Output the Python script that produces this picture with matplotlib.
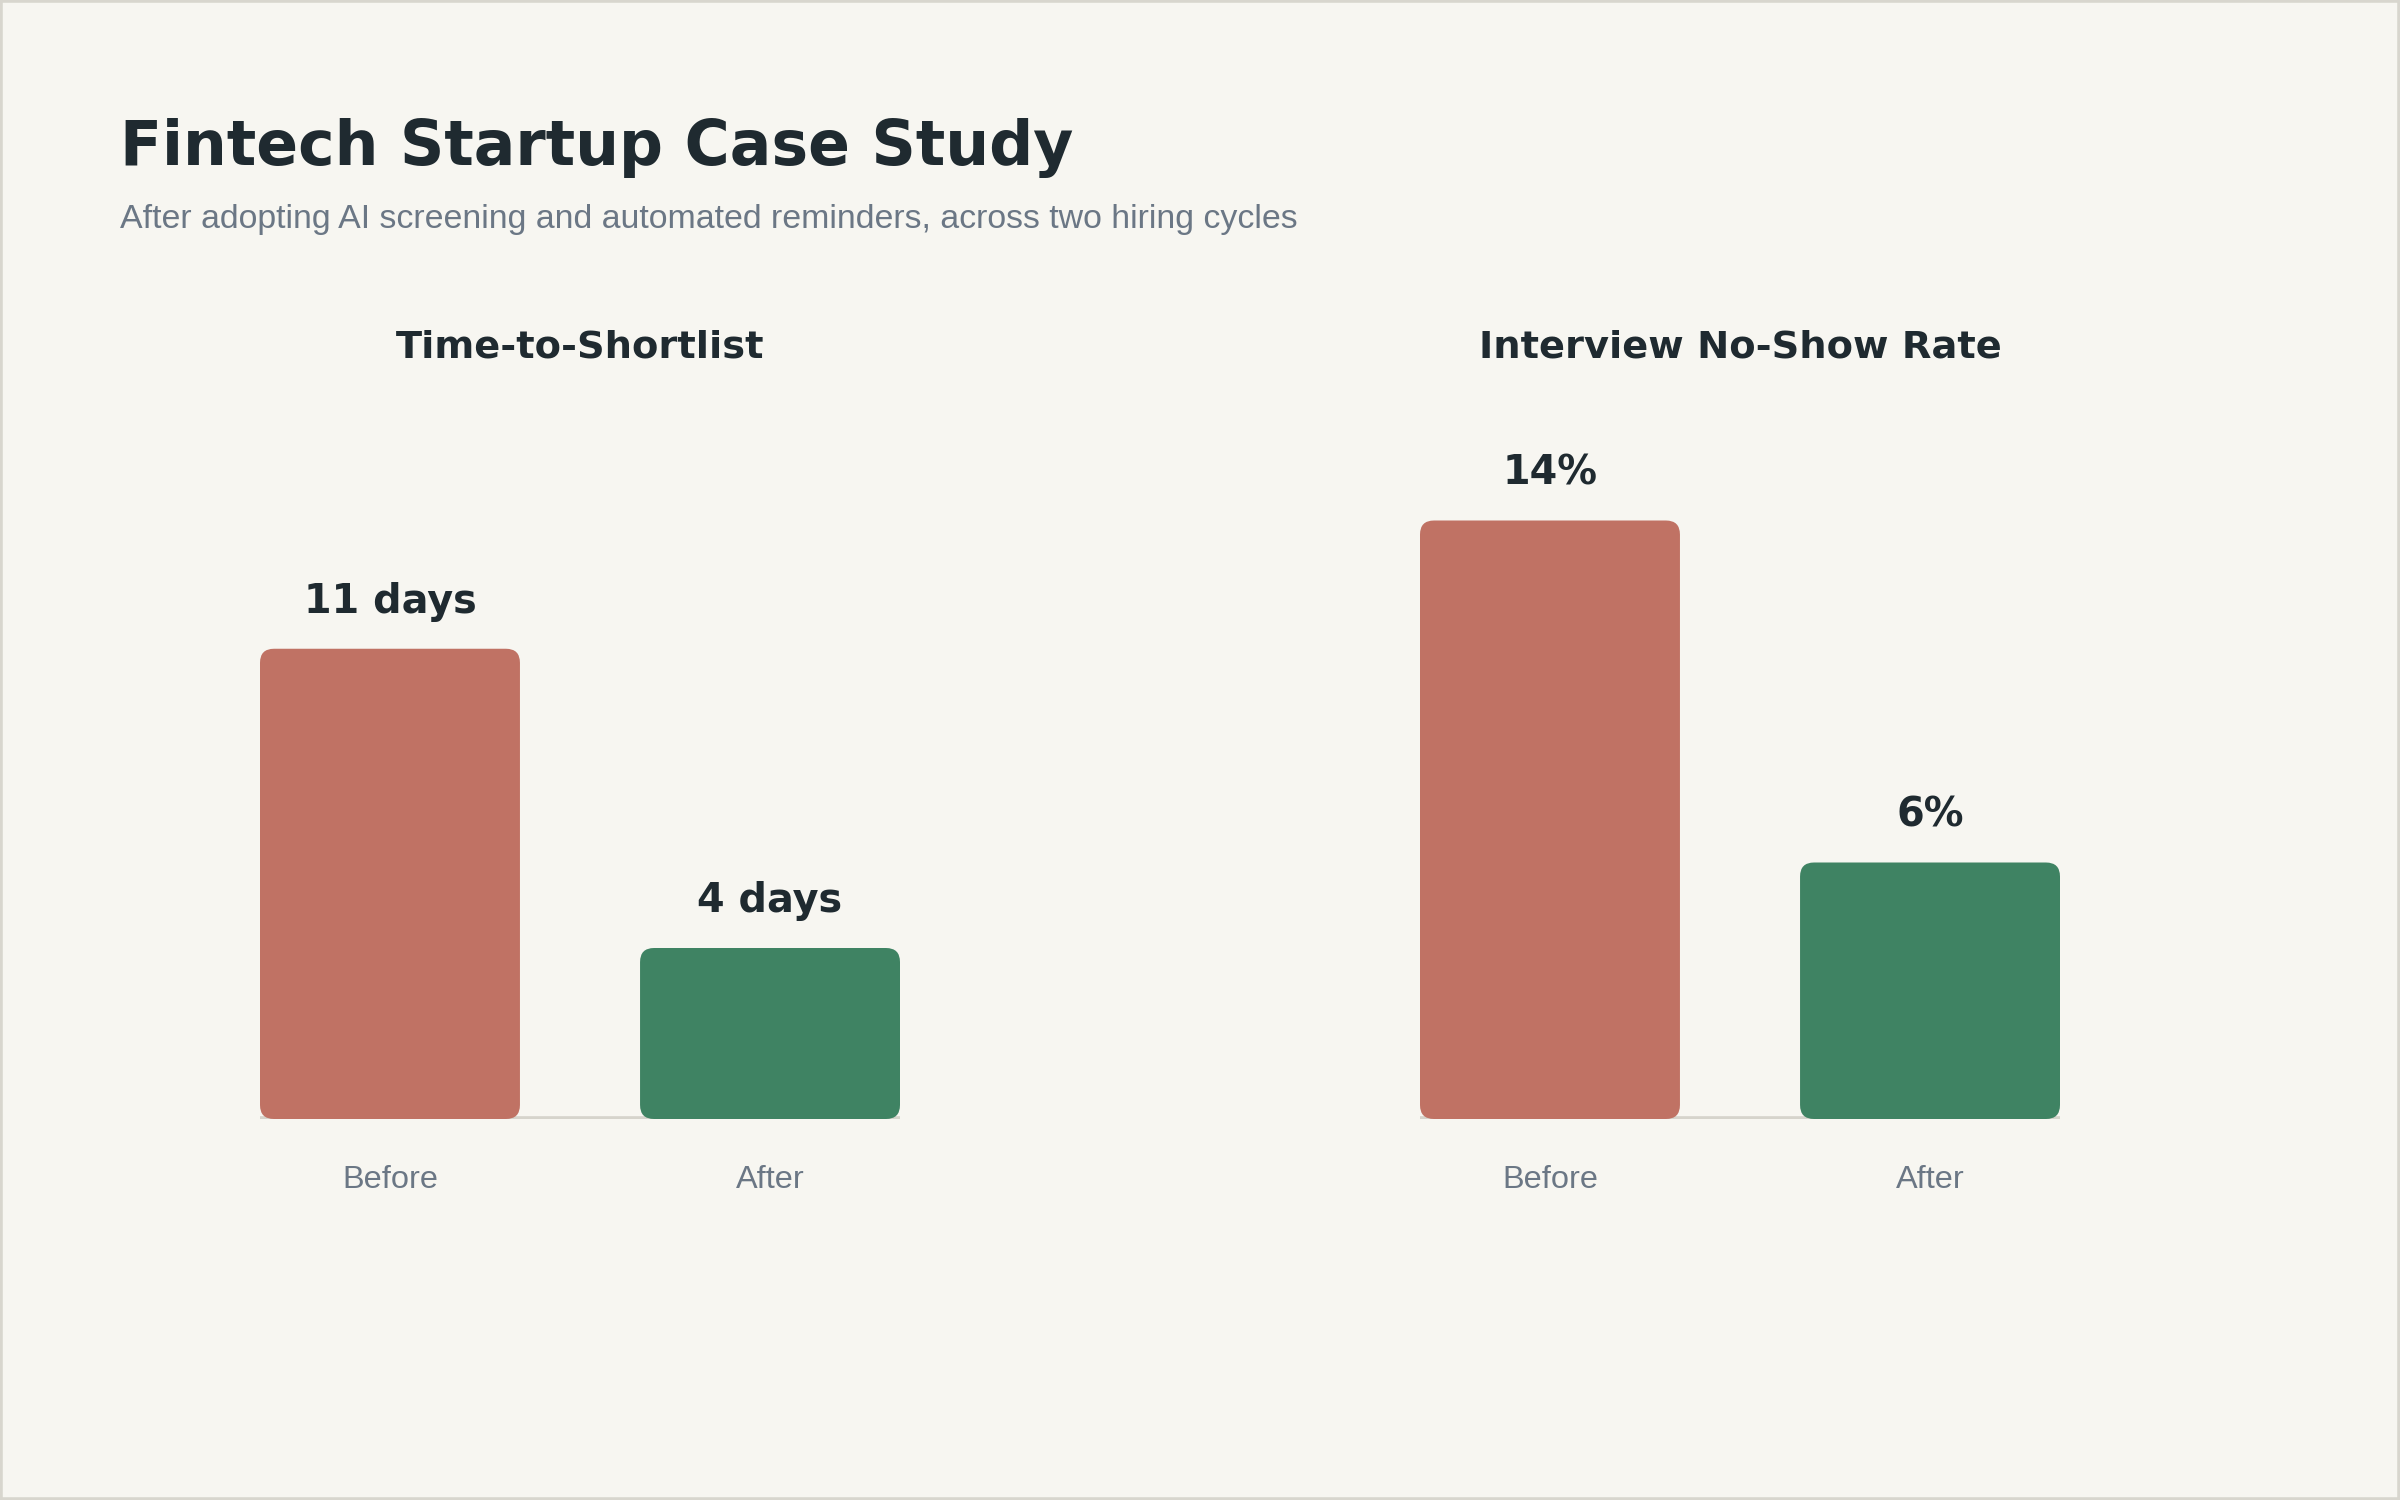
import matplotlib.pyplot as plt
from matplotlib.patches import FancyBboxPatch, Rectangle
from matplotlib.transforms import blended_transform_factory
import numpy as np

# data
categories = ["Before", "After"]
shortlist_days = [11, 4]
shortlist_labels = ["11 days", "4 days"]
noshow_pct = [14, 6]
noshow_labels = ["14%", "6%"]
panel_titles = ["Time-to-Shortlist", "Interview No-Show Rate"]

BG = "#f7f6f1"
DARK = "#1f2a30"
GREY = "#6b7785"
RED = "#c07264"
GREEN = "#3f8363"
LINE = "#d6d4cc"
HEAD = "DejaVu Sans"
BODY = "Liberation Sans"

W, H, DPI = 2400, 1500, 200
fig = plt.figure(figsize=(W / DPI, H / DPI), dpi=DPI, facecolor=BG)
fig.patches.append(Rectangle((0, 0), 1, 1, transform=fig.transFigure,
                             fill=False, edgecolor="#d8d6ce", lw=2.0))

fig.text(120 / W, 1 - 165 / H, "Fintech Startup Case Study", fontsize=22.2,
         fontweight="bold", family=HEAD, color=DARK, va="baseline")
fig.text(120 / W, 1 - 228 / H,
         "After adopting AI screening and automated reminders, across two hiring cycles",
         fontsize=12.2, family=BODY, color=GREY, va="baseline")

ylim = (0, 16)
xlim = (-0.342, 1.342)
base_px = 1119
ax_h_px = (ylim[1] - ylim[0]) * 42.75
lefts = [260, 1420]
ax_w_px = 640

series = [(shortlist_days, shortlist_labels), (noshow_pct, noshow_labels)]
for i, (vals, labs) in enumerate(series):
    ax = fig.add_axes([lefts[i] / W, 1 - base_px / H, ax_w_px / W, ax_h_px / H])
    ax.set_facecolor("none")
    ax.set_xlim(*xlim)
    ax.set_ylim(*ylim)
    x = np.arange(len(categories))
    bars = ax.bar(x, vals, width=0.684, color=[RED, GREEN], zorder=2)
    # swap plain rects for rounded ones
    px_x = ax_w_px / (xlim[1] - xlim[0])
    px_y = ax_h_px / (ylim[1] - ylim[0])
    r = 14 / px_x
    for b in bars:
        fb = FancyBboxPatch((b.get_x(), b.get_y()), b.get_width(), b.get_height(),
                            boxstyle=f"round,pad=0,rounding_size={r}",
                            mutation_aspect=px_x / px_y,
                            facecolor=b.get_facecolor(), edgecolor="none", zorder=2)
        ax.add_patch(fb)
        b.remove()
    ax.axhline(0, color=LINE, lw=2.4, zorder=1)
    for xi, v, lab in zip(x, vals, labs):
        ax.annotate(lab, (xi, v), xytext=(0, 13), textcoords="offset points",
                    ha="center", va="baseline", fontsize=14.3, fontweight="bold",
                    family=HEAD, color=DARK)
    ax.set_xticks(x)
    ax.set_xticklabels(categories, family=BODY, fontsize=11.7, color=GREY)
    ax.tick_params(axis="x", length=0, pad=16.5)
    ax.set_yticks([])
    for s in ax.spines.values():
        s.set_visible(False)
    trans = blended_transform_factory(ax.transAxes, fig.transFigure)
    ax.text(0.5, 1 - 357 / H, panel_titles[i], transform=trans,
            ha="center", va="baseline", fontsize=13.8, fontweight="bold",
            family=HEAD, color=DARK)

fig.savefig("out.png", dpi=DPI, facecolor=BG)
